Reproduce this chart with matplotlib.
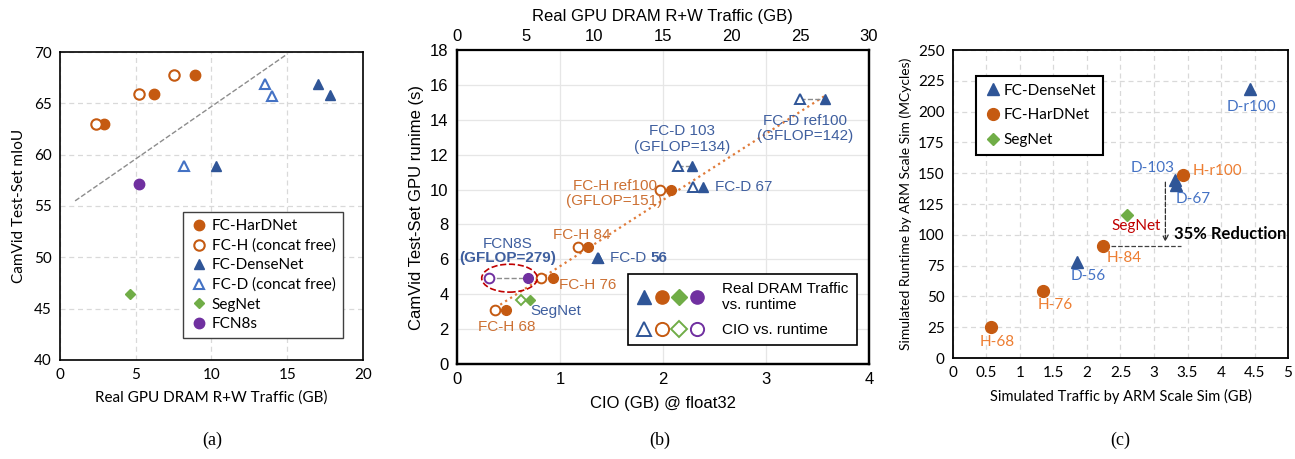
import matplotlib.pyplot as plt
from matplotlib.lines import Line2D
from matplotlib.patches import Ellipse
from matplotlib.legend_handler import HandlerTuple

ORANGE = '#C55A11'
BLUE = '#2F5597'
LBLUE = '#4472C4'
GREEN = '#70AD47'
PURPLE = '#7030A0'
TXT_BLUE = '#3F5F9F'
TXT_ORANGE = '#CC7033'

# ---- (a) mIoU vs real DRAM traffic
a_hd_x = [2.9, 6.2, 8.9]
a_hd_y = [63.0, 65.9, 67.8]
a_hcf_x = [2.4, 5.2, 7.5]
a_hcf_y = [63.0, 65.9, 67.8]
a_dn_x = [10.3, 17.0, 17.8]
a_dn_y = [58.9, 66.9, 65.8]
a_dcf_x = [8.2, 13.5, 14.0]
a_dcf_y = [58.9, 66.9, 65.7]
a_seg_x, a_seg_y = [4.6], [46.4]
a_fcn_x, a_fcn_y = [5.2], [57.1]
a_trend_x = [1.0, 15.0]
a_trend_y = [55.5, 69.8]

# ---- (b) runtime vs CIO (open) and real DRAM traffic (filled)
b_names = ['FC-D ref100', 'FC-D 103', 'FC-D 67', 'FC-D 56',
           'FC-H ref100', 'FC-H 84', 'FC-H 76', 'FC-H 68', 'SegNet', 'FCN8S']
b_kind = ['D', 'D', 'D', 'D', 'H', 'H', 'H', 'H', 'S', 'F']
b_cio = [3.33, 2.15, 2.29, 1.37, 1.97, 1.18, 0.82, 0.37, 0.62, 0.31]
b_real = [26.8, 17.1, 17.9, 10.24, 15.56, 9.56, 7.0, 3.55, 5.3, 5.18]
b_time = [15.17, 11.37, 10.13, 6.05, 9.98, 6.72, 4.92, 3.11, 3.68, 4.92]
b_linked = ['FC-D ref100', 'FC-D 103', 'FCN8S']
b_trend_x = [0.42, 3.58]
b_trend_y = [3.4, 15.4]

# ---- (c) ARM Scale Sim
c_dn_x = [4.44, 3.32, 3.33, 1.85]
c_dn_y = [218, 144.5, 140.5, 77.8]
c_hd_x = [3.43, 2.24, 1.35, 0.57]
c_hd_y = [148.6, 91, 54, 24.9]
c_seg_x, c_seg_y = [2.59], [116.2]

fig = plt.figure(figsize=(12.95, 4.59), dpi=100)

# ================= (a)
ax = fig.add_axes([0.0463, 0.2157, 0.234, 0.671])
fa = 'Lato'
ms = 7.5
ax.plot(a_trend_x, a_trend_y, ls='--', color='#8C8C8C', lw=1.0, zorder=1)
ax.plot(a_hd_x, a_hd_y, 'o', ms=ms, color=ORANGE, label='FC-HarDNet', zorder=3)
ax.plot(a_hcf_x, a_hcf_y, 'o', ms=ms, mfc='white', mec=ORANGE, mew=1.5,
        label='FC-H (concat free)', zorder=3)
ax.plot(a_dn_x, a_dn_y, '^', ms=ms, color=BLUE, label='FC-DenseNet', zorder=3)
ax.plot(a_dcf_x, a_dcf_y, '^', ms=ms, mfc='white', mec=LBLUE, mew=1.5,
        label='FC-D (concat free)', zorder=3)
ax.plot(a_seg_x, a_seg_y, 'D', ms=5.5, color=GREEN, label='SegNet', zorder=3)
ax.plot(a_fcn_x, a_fcn_y, 'o', ms=ms, color=PURPLE, label='FCN8s', zorder=3)
ax.set_xlim(0, 20)
ax.set_ylim(40, 70)
ax.set_xticks([0, 5, 10, 15, 20])
ax.set_yticks(range(40, 71, 5))
ax.grid(True, ls=(0, (4, 3)), color='#D9D9D9', lw=0.9)
ax.set_axisbelow(True)
ax.tick_params(length=0, labelsize=11, pad=6)
for t in ax.get_xticklabels() + ax.get_yticklabels():
    t.set_fontfamily(fa)
ax.set_xlabel('Real GPU DRAM R+W Traffic (GB)', fontsize=11, family=fa, labelpad=6)
ax.set_ylabel('CamVid Test-Set mIoU', fontsize=11, family=fa, labelpad=6)
for s in ax.spines.values():
    s.set_linewidth(1.2)
leg = ax.legend(loc='lower right', bbox_to_anchor=(0.96, 0.045), fancybox=False,
                edgecolor='#404040', framealpha=1, handletextpad=0.2,
                handlelength=1.2, borderpad=0.5, labelspacing=0.35,
                prop={'family': fa, 'size': 11})
leg.get_frame().set_linewidth(1.0)

# ================= (b)
fb = 'Liberation Sans'
bx = fig.add_axes([0.3529, 0.207, 0.318, 0.684])
tx = bx.twiny()
kc = {'D': BLUE, 'H': ORANGE, 'S': GREEN, 'F': PURPLE}
km = {'D': '^', 'H': 'o', 'S': 'D', 'F': 'o'}
kms = {'D': 7, 'H': 7, 'S': 5.5, 'F': 7}
bx.plot(b_trend_x, b_trend_y, ls=':', color='#E07B39', lw=1.6, zorder=1)
for n, k, c, r, t in zip(b_names, b_kind, b_cio, b_real, b_time):
    if n in b_linked:
        bx.plot([c, r / 7.5], [t, t], ls='--', color='#8C8C8C', lw=1.0, zorder=2)
    bx.plot(c, t, km[k], ms=kms[k], mfc='white', mec=kc[k], mew=1.4, zorder=3)
    tx.plot(r, t, km[k], ms=kms[k], color=kc[k], zorder=4)
bx.add_patch(Ellipse((0.51, 4.92), 0.54, 1.6, fill=False, ec='#C00000',
                     ls='--', lw=1.2, zorder=5))
bx.set_xlim(0, 4)
bx.set_ylim(0, 18)
tx.set_xlim(0, 30)
bx.set_xticks([0, 1, 2, 3, 4])
bx.set_yticks(range(0, 19, 2))
tx.set_xticks(range(0, 31, 5))
bx.grid(True, color='#E6E6E6', lw=0.9)
bx.set_axisbelow(True)
bx.tick_params(length=0, labelsize=12, pad=6)
tx.tick_params(length=0, labelsize=12, pad=4)
for t in bx.get_xticklabels() + bx.get_yticklabels() + tx.get_xticklabels():
    t.set_fontfamily(fb)
bx.set_xlabel('CIO (GB) @ float32', fontsize=12, family=fb, labelpad=6)
bx.set_ylabel('CamVid Test-Set GPU runime (s)', fontsize=12, family=fb, labelpad=4)
tx.set_xlabel('Real GPU DRAM R+W Traffic (GB)', fontsize=12, family=fb, labelpad=6)
for s in list(bx.spines.values()) + list(tx.spines.values()):
    s.set_linewidth(1.6)
tx.spines['top'].set_visible(False)

lk = dict(fontsize=11, family=fb)
bx.text(0.49, 6.9, 'FCN8S', color=TXT_BLUE, ha='center', va='center', **lk)
bx.text(0.49, 6.1, '(GFLOP=279)', color=TXT_BLUE, ha='center', va='center',
        weight='bold', **lk)
bx.text(1.21, 7.4, 'FC-H 84', color=TXT_ORANGE, ha='center', va='center', **lk)
fd56 = bx.text(1.49, 6.05, 'FC-D ', color=TXT_BLUE, ha='left', va='center', **lk)
bx.annotate('56', xy=(1, 0.5), xycoords=fd56, color=TXT_BLUE, ha='left',
            va='center', weight='bold', **lk)
bx.text(0.99, 4.5, 'FC-H 76', color=TXT_ORANGE, ha='left', va='center', **lk)
bx.text(0.71, 3.02, 'SegNet', color=TXT_BLUE, ha='left', va='center', **lk)
bx.text(0.2, 2.1, 'FC-H 68', color=TXT_ORANGE, ha='left', va='center', **lk)
bx.text(1.53, 9.8, 'FC-H ref100\n(GFLOP=151)', color=TXT_ORANGE, ha='center',
        va='center', linespacing=1.1, **lk)
bx.text(2.19, 12.9, 'FC-D 103\n(GFLOP=134)', color=TXT_BLUE, ha='center',
        va='center', linespacing=1.1, **lk)
bx.text(2.51, 10.13, 'FC-D 67', color=TXT_BLUE, ha='left', va='center', **lk)
bx.text(3.38, 13.5, 'FC-D ref100\n(GFLOP=142)', color=TXT_BLUE, ha='center',
        va='center', linespacing=1.1, **lk)

lms = 9.5
filled = tuple(Line2D([], [], ls='none', marker=km[k], ms=lms if k != 'S' else 8,
                      color=kc[k]) for k in ['D', 'H', 'S', 'F'])
opened = tuple(Line2D([], [], ls='none', marker=km[k], ms=lms if k != 'S' else 8,
                      mfc='white', mec=kc[k], mew=1.4) for k in ['D', 'H', 'S', 'F'])
bleg = bx.legend([filled, opened], ['Real DRAM Traffic\nvs. runtime', 'CIO vs. runtime'],
                 handler_map={tuple: HandlerTuple(ndivide=None, pad=0.2)},
                 loc='lower right', bbox_to_anchor=(0.99, 0.035), fancybox=False,
                 edgecolor='black', framealpha=1, handlelength=4.4,
                 handletextpad=1.2, borderpad=0.55, labelspacing=0.7,
                 prop={'family': fb, 'size': 11})
bleg.get_frame().set_linewidth(1.2)

# ================= (c)
cx = fig.add_axes([0.7359, 0.22, 0.2587, 0.671])
fc = 'Lato'
cx.plot(c_dn_x, c_dn_y, '^', ms=8, color=BLUE, label='FC-DenseNet', zorder=3)
cx.plot(c_hd_x, c_hd_y, 'o', ms=8.5, color=ORANGE, label='FC-HarDNet', zorder=3)
cx.plot(c_seg_x, c_seg_y, 'D', ms=6.5, color=GREEN, label='SegNet', zorder=3)
cx.plot([2.36, 3.40], [91, 91], ls='--', color='#404040', lw=0.9, zorder=2)
cx.annotate('', xy=(3.17, 92), xytext=(3.17, 145),
            arrowprops=dict(arrowstyle='->', ls='--', color='#303030', lw=0.9))
cx.text(3.3, 101, '35% Reduction', fontsize=12, weight='bold', family=fc,
        ha='left', va='center')
lc = dict(fontsize=11, family=fc)
cx.text(4.46, 204, 'D-r100', color=LBLUE, ha='center', va='center', **lc)
cx.text(2.98, 154.5, 'D-103', color=LBLUE, ha='center', va='center', **lc)
cx.text(3.58, 152, 'H-r100', color='#ED7D31', ha='left', va='center', **lc)
cx.text(3.32, 129, 'D-67', color=LBLUE, ha='left', va='center', **lc)
cx.text(2.73, 107.5, 'SegNet', color='#C00000', ha='center', va='center', **lc)
cx.text(2.29, 81.5, 'H-84', color='#ED7D31', ha='left', va='center', **lc)
cx.text(1.75, 66.8, 'D-56', color=LBLUE, ha='left', va='center', **lc)
cx.text(1.53, 43, 'H-76', color='#ED7D31', ha='center', va='center', **lc)
cx.text(0.66, 12.7, 'H-68', color='#ED7D31', ha='center', va='center', **lc)
cx.set_xlim(0, 5)
cx.set_ylim(0, 250)
cx.set_xticks([0, 0.5, 1, 1.5, 2, 2.5, 3, 3.5, 4, 4.5, 5])
cx.set_xticklabels(['0', '0.5', '1', '1.5', '2', '2.5', '3', '3.5', '4', '4.5', '5'])
cx.set_yticks(range(0, 251, 25))
cx.grid(True, ls=(0, (4, 3)), color='#D9D9D9', lw=0.9)
cx.set_axisbelow(True)
cx.tick_params(length=0, labelsize=11, pad=6)
for t in cx.get_xticklabels() + cx.get_yticklabels():
    t.set_fontfamily(fc)
cx.set_xlabel('Simulated Traffic by ARM Scale Sim (GB)', fontsize=10.5, family=fc, labelpad=6)
cx.set_ylabel('Simulated Runtime by ARM Scale Sim (MCycles)', fontsize=10, family=fc, labelpad=4)
for s in cx.spines.values():
    s.set_linewidth(1.3)
cleg = cx.legend(loc='upper left', bbox_to_anchor=(0.045, 0.94), fancybox=False,
                 edgecolor='black', framealpha=1, handletextpad=0.1,
                 handlelength=1.2, borderpad=0.5, labelspacing=0.7,
                 prop={'family': fc, 'size': 11})
cleg.get_frame().set_linewidth(1.5)

# panel captions
for xp, lab in [(212, '(a)'), (660, '(b)'), (1120, '(c)')]:
    fig.text(xp / 1295, 1 - 440 / 459, lab, ha='center', va='center',
             fontsize=13, family='Liberation Serif')

fig.savefig('out.png', dpi=100)
